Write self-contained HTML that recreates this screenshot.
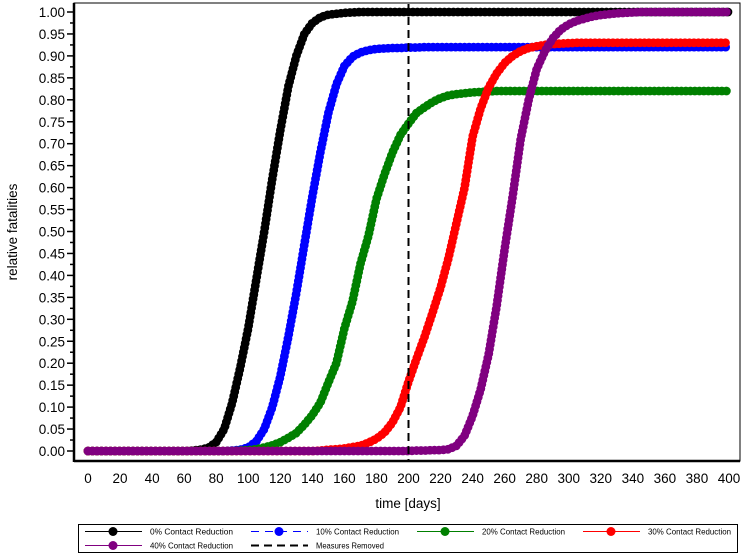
<!DOCTYPE html>
<html><head><meta charset="utf-8"><style>
body{margin:0;background:#fff;}
svg{display:block;font-family:"Liberation Sans",Arial,sans-serif;}
</style></head><body>
<svg id="chart" width="743" height="556" viewBox="0 0 743 556" xmlns="http://www.w3.org/2000/svg">
<g id="grid"></g>
<g id="series"></g>
<g id="axes"></g>
<g id="legend"></g>
</svg>
<script>
const days = [];
for (let d = 0; d <= 400; d += 5) days.push(d);
const xTicks = [0,20,40,60,80,100,120,140,160,180,200,220,240,260,280,300,320,340,360,380,400];
const yTicks = [0,0.05,0.1,0.15,0.2,0.25,0.3,0.35,0.4,0.45,0.5,0.55,0.6,0.65,0.7,0.75,0.8,0.85,0.9,0.95,1.0];
const seriesNames = ["0% Contact Reduction","10% Contact Reduction","20% Contact Reduction","30% Contact Reduction","40% Contact Reduction"];
const seriesColors = ["#000000","#0000ff","#008000","#ff0000","#800080"];
const measuresDay = 200;

// values every 5 days (day 0..400)
const black = [0,0,0,0,0,0,0,0,0,0,0,0,0,0.001,0.003,0.007,0.02,0.05,0.11,0.19,0.28,0.39,0.50,0.62,0.73,0.83,0.90,0.95,0.975,0.988,0.994,0.996,0.998,0.999,1,1,1,1,1,1,1,1,1,1,1,1,1,1,1,1,1,1,1,1,1,1,1,1,1,1,1,1,1,1,1,1,1,1,1,1,1,1,1,1,1,1,1,1,1,1,1];
const blue = [0,0,0,0,0,0,0,0,0,0,0,0,0,0,0,0,0,0,0.001,0.003,0.008,0.022,0.05,0.10,0.17,0.26,0.36,0.47,0.58,0.68,0.77,0.835,0.877,0.898,0.908,0.913,0.916,0.917,0.918,0.918,0.919,0.919,0.92,0.92,0.92,0.92,0.92,0.92,0.92,0.92,0.92,0.92,0.92,0.92,0.92,0.92,0.92,0.92,0.92,0.92,0.92,0.92,0.92,0.92,0.92,0.92,0.92,0.92,0.92,0.92,0.92,0.92,0.92,0.92,0.92,0.92,0.92,0.92,0.92,0.92,0.92];
const green = [0,0,0,0,0,0,0,0,0,0,0,0,0,0,0,0,0,0,0,0.001,0.002,0.004,0.008,0.013,0.02,0.03,0.041,0.06,0.082,0.11,0.156,0.2,0.279,0.34,0.426,0.49,0.574,0.63,0.68,0.72,0.746,0.77,0.783,0.795,0.804,0.81,0.813,0.815,0.817,0.818,0.819,0.82,0.82,0.82,0.82,0.82,0.82,0.82,0.82,0.82,0.82,0.82,0.82,0.82,0.82,0.82,0.82,0.82,0.82,0.82,0.82,0.82,0.82,0.82,0.82,0.82,0.82,0.82,0.82,0.82,0.82];
const red = [0,0,0,0,0,0,0,0,0,0,0,0,0,0,0,0,0,0,0,0,0,0,0,0,0,0,0,0,0,0.001,0.003,0.004,0.006,0.009,0.012,0.019,0.028,0.042,0.065,0.1,0.158,0.21,0.26,0.315,0.372,0.44,0.52,0.6,0.716,0.78,0.828,0.86,0.884,0.9,0.911,0.918,0.922,0.925,0.927,0.928,0.929,0.93,0.93,0.93,0.93,0.93,0.93,0.93,0.93,0.93,0.93,0.93,0.93,0.93,0.93,0.93,0.93,0.93,0.93,0.93,0.93];
const purple = [0,0,0,0,0,0,0,0,0,0,0,0,0,0,0,0,0,0,0,0,0,0,0,0,0,0,0,0,0,0,0,0,0,0,0,0,0,0,0,0,0,0.001,0.001,0.002,0.002,0.004,0.012,0.035,0.08,0.14,0.22,0.33,0.46,0.58,0.71,0.80,0.87,0.91,0.94,0.96,0.972,0.98,0.985,0.99,0.993,0.995,0.997,0.998,0.999,1,1,1,1,1,1,1,1,1,1,1,1];
const seriesValues = [black, blue, green, red, purple];

const NS = "http://www.w3.org/2000/svg";
const X0 = 88, X1 = 729, Y0 = 451, Y1 = 12;
const PL = 74, PR = 740, PT = 3, PB = 461;
const xs = d => X0 + (d - 0) / 400 * (X1 - X0);
const ys = v => Y0 - v * (Y0 - Y1);
function mk(tag, attrs, parent) {
  const e = document.createElementNS(NS, tag);
  for (const k in attrs) e.setAttribute(k, attrs[k]);
  parent.appendChild(e);
  return e;
}
const gS = document.getElementById("series");
const gA = document.getElementById("axes");
const gL = document.getElementById("legend");

const frame = mk("rect", {x: PL, y: PT, width: PR - PL, height: PB - PT, fill: "none", stroke: "#000", "stroke-width": 1}, gA);


const yAxis = mk("line", {x1: PL, y1: PT, x2: PL, y2: PB + 1, stroke: "#000", "stroke-width": 2.5}, gA);


const xAxis = mk("line", {x1: PL, y1: PB, x2: PR, y2: PB, stroke: "#000", "stroke-width": 2.5}, gA);



yTicks.forEach((v, i) => {
  const t = mk("line", {x1: PL - 7, y1: ys(v), x2: PL, y2: ys(v), stroke: "#000", "stroke-width": 1.5}, gA);
  
  
  if (i < yTicks.length - 1) {
    const m = mk("line", {x1: PL - 4, y1: ys(v + 0.025), x2: PL, y2: ys(v + 0.025), stroke: "#000", "stroke-width": 1.5}, gA);
    
    
  }
  const lb = mk("text", {x: PL - 9, y: ys(v) + 5, "text-anchor": "end", "font-size": 13.5, fill: "#000"}, gA);
  lb.textContent = v.toFixed(2);
  
  
});
xTicks.forEach(d => {
  const lb = mk("text", {x: xs(d), y: 483, "text-anchor": "middle", "font-size": 13.5, fill: "#000"}, gA);
  lb.textContent = d;
  
  
});
const xt = mk("text", {x: 408, y: 508, "text-anchor": "middle", "font-size": 13.5}, gA);
xt.textContent = "time [days]";


const yt = mk("text", {x: 0, y: 0, "text-anchor": "middle", "font-size": 13.5, transform: "translate(17,232) rotate(-90)"}, gA);
yt.textContent = "relative fatalities";



seriesValues.forEach((vals, si) => {
  const g = mk("g", {}, gS);
  
  
  const dstr = vals.map((v, i) => (i ? "L" : "M") + xs(days[i]).toFixed(2) + "," + ys(v).toFixed(2)).join(" ");
  const p = mk("path", {d: dstr, fill: "none", stroke: seriesColors[si], "stroke-width": 2}, g);
  
  
  const L = p.getTotalLength();
  const step = 4.5;
  for (let s = 0; s <= L; s += step) {
    const pt = p.getPointAtLength(s);
    const c = mk("circle", {cx: pt.x, cy: pt.y, r: 4.4, fill: seriesColors[si]}, g);
    
    
  }
});

const mr = mk("line", {x1: xs(measuresDay), y1: PT + 1, x2: xs(measuresDay), y2: PB, stroke: "#000", "stroke-width": 2, "stroke-dasharray": "8,5"}, gA);



const lbox = mk("rect", {x: 78.5, y: 524.5, width: 659, height: 28, fill: "#fff", stroke: "#000", "stroke-width": 1}, gL);


const legendItems = [
  {name: seriesNames[0], color: seriesColors[0], dash: null, dot: true, col: 0, row: 0},
  {name: seriesNames[1], color: seriesColors[1], dash: "8,6", dot: true, col: 1, row: 0},
  {name: seriesNames[2], color: seriesColors[2], dash: null, dot: true, col: 2, row: 0},
  {name: seriesNames[3], color: seriesColors[3], dash: null, dot: true, col: 3, row: 0},
  {name: seriesNames[4], color: seriesColors[4], dash: null, dot: true, col: 0, row: 1},
  {name: "Measures Removed", color: "#000", dash: "8,5", dot: false, col: 1, row: 1}
];
legendItems.forEach(it => {
  const g = mk("g", {}, gL);
  
  
  const lx = 85 + it.col * 166, ly = 531.5 + it.row * 14;
  const ln = mk("line", {x1: lx, y1: ly, x2: lx + 57, y2: ly, stroke: it.color, "stroke-width": it.dot ? 1 : 2}, g);
  if (it.dash) ln.setAttribute("stroke-dasharray", it.dash);
  if (it.dot) mk("circle", {cx: lx + 28, cy: ly, r: 4.5, fill: it.color}, g);
  const tx = mk("text", {x: lx + 65, y: ly + 3, "font-size": 8.3, fill: "#000", textLength: 83, lengthAdjust: "spacingAndGlyphs"}, g);
  if (it.name === "Measures Removed") tx.setAttribute("textLength", 68);
  tx.textContent = it.name;
});
</script>
</body></html>
